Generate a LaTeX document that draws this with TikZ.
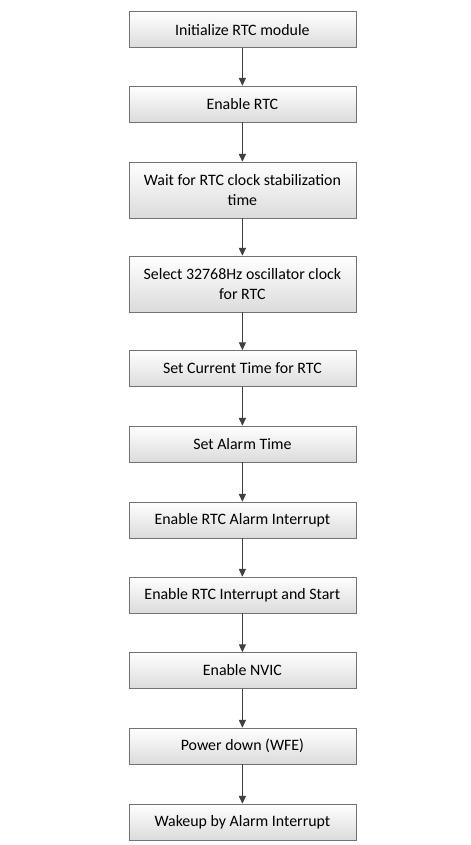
\documentclass[tikz,border=0pt]{standalone}
\usepackage{fontspec}
\setmainfont{Carlito}
\usepackage{tikz}
\usetikzlibrary{arrows.meta, shadows}
\definecolor{boxedge}{rgb}{0.45,0.45,0.45}
\definecolor{boxlow}{rgb}{0.86,0.86,0.86}
\definecolor{arrowcol}{rgb}{0.25,0.25,0.25}

\begin{document}
\begin{tikzpicture}[
    box/.style={rectangle, draw=boxedge, top color=white, bottom color=boxlow,
      drop shadow={shadow xshift=0.5pt, shadow yshift=-0.6pt, fill=black!25, opacity=0.6},
      minimum width=5.675cm, minimum height=0.9cm, align=center,
      font=\fontsize{11.3}{14}\selectfont, inner sep=2pt},
    tall/.style={minimum height=1.4cm},
    arrow/.style={-{Triangle[length=5.5pt, width=5pt]}, draw=arrowcol, fill=arrowcol, line width=0.6pt}
]
\useasboundingbox (0,0) rectangle (11.775,-21.125);
\node[box] (init) at (6.06,-0.74) {Initialize RTC module};
\node[box] (enable) at (6.06,-2.6) {Enable RTC};
\node[box, tall] (wait) at (6.06,-4.75) {Wait for RTC clock stabilization\\time};
\node[box, tall] (select) at (6.06,-7.1) {Select 32768Hz oscillator clock\\for RTC};
\node[box] (settime) at (6.06,-9.21) {Set Current Time for RTC};
\node[box] (setalarm) at (6.06,-11.1) {Set Alarm Time};
\node[box] (alarmint) at (6.06,-13.0) {Enable RTC Alarm Interrupt};
\node[box] (rtcint) at (6.06,-14.875) {Enable RTC Interrupt and Start};
\node[box] (nvic) at (6.06,-16.76) {Enable NVIC};
\node[box] (power) at (6.06,-18.65) {Power down (WFE)};
\node[box] (wakeup) at (6.06,-20.55) {Wakeup by Alarm Interrupt};

\draw[arrow] (init) -- (enable);
\draw[arrow] (enable) -- (wait);
\draw[arrow] (wait) -- (select);
\draw[arrow] (select) -- (settime);
\draw[arrow] (settime) -- (setalarm);
\draw[arrow] (setalarm) -- (alarmint);
\draw[arrow] (alarmint) -- (rtcint);
\draw[arrow] (rtcint) -- (nvic);
\draw[arrow] (nvic) -- (power);
\draw[arrow] (power) -- (wakeup);
\end{tikzpicture}
\end{document}
